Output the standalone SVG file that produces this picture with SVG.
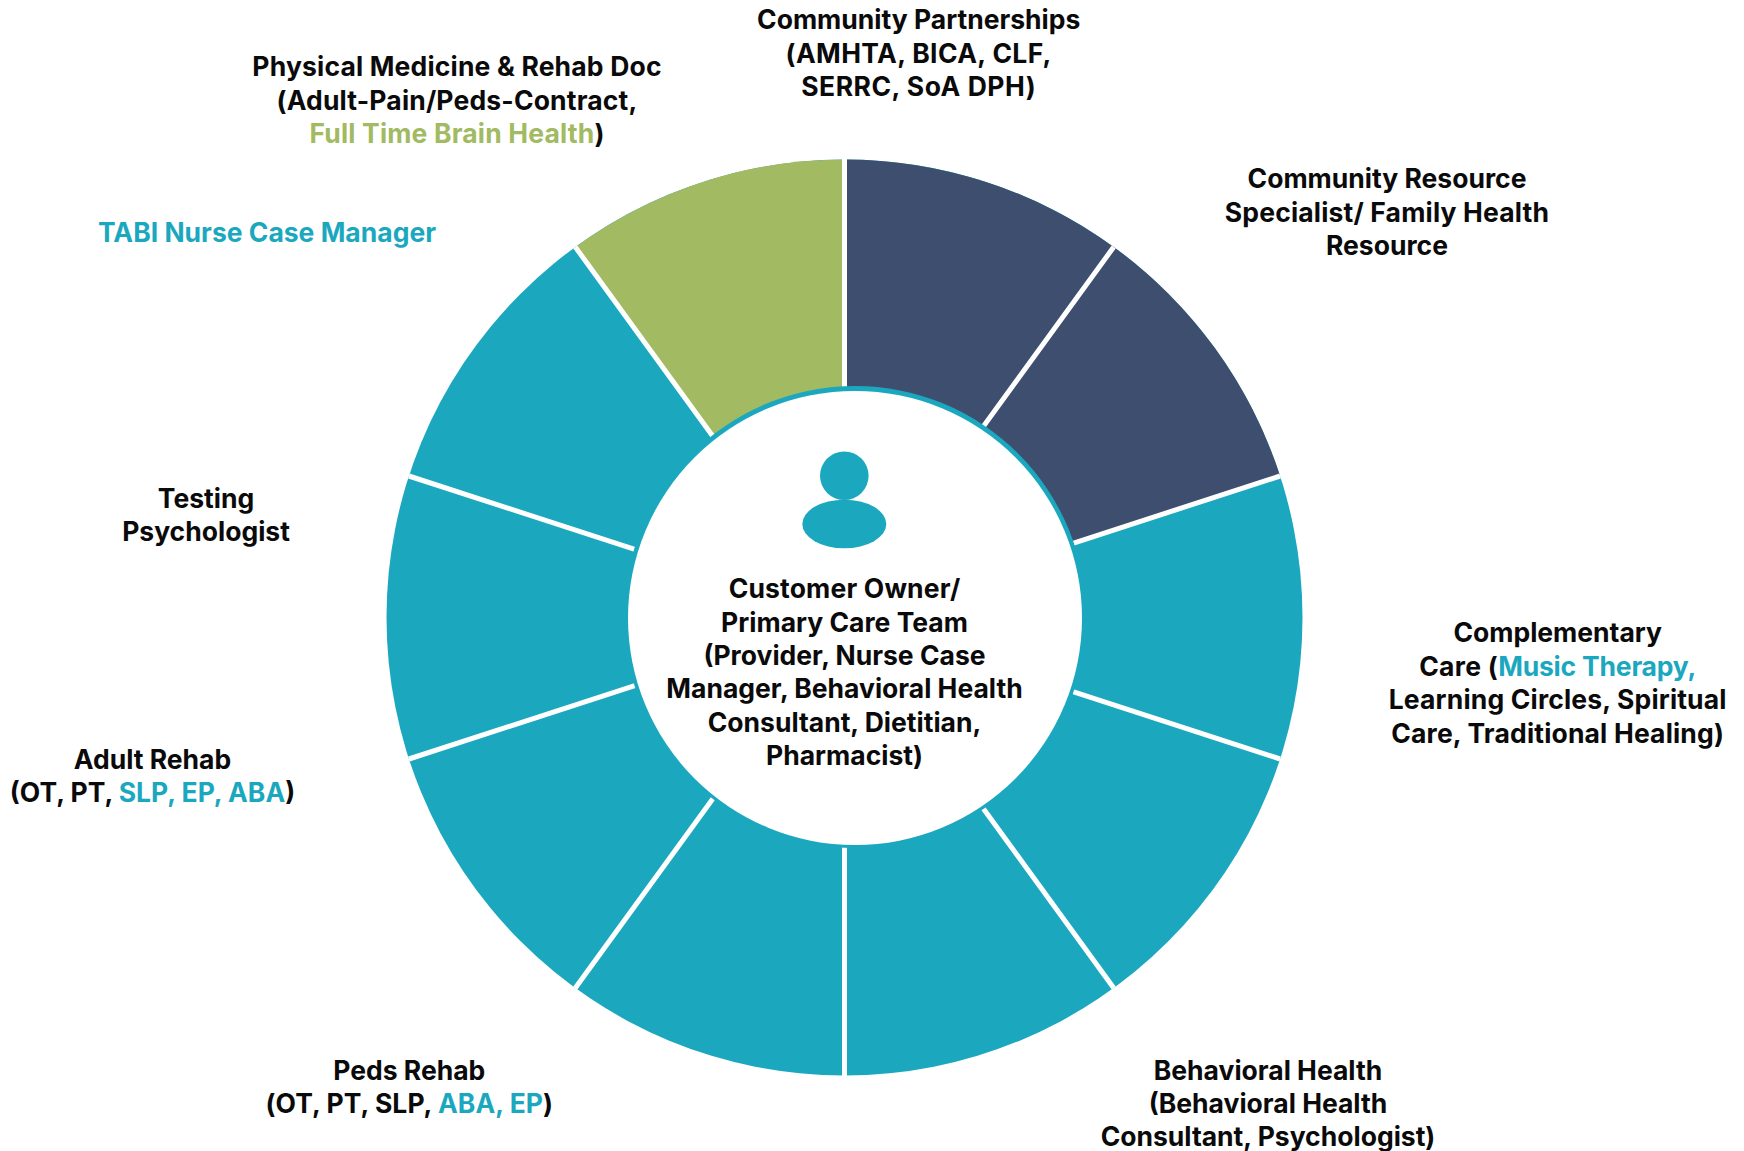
<svg xmlns="http://www.w3.org/2000/svg" width="1744" height="1151" viewBox="0 0 1744 1151">
<style>
text{font-family:"Inter","Liberation Sans",sans-serif;font-weight:700;font-size:26.5px;fill:#0a0a0a;text-anchor:middle}
.t{fill:#1ba8bf}.g{fill:#a2ba62}
.s1{letter-spacing:.17px}.s2{letter-spacing:.37px}.s3{letter-spacing:.5px}
.sp{stroke:#fff;stroke-width:5;fill:none}
</style>
<rect width="1744" height="1151" fill="#fff"/>
<g id="ring">
<circle cx="844.5" cy="617.5" r="458" fill="#1ba8bf"/>
<path d="M844.5 617.5V159.5A458 458 0 0 1 1280.1 476Z" fill="#3e4e6e"/>
<path d="M844.5 617.5V159.5A458 458 0 0 0 575.3 247Z" fill="#a2ba62"/>
</g>
<g id="connectors">
<path class="sp" d="M844.5 617.5V159M844.5 617.5V1076M844.5 617.5L1113.7 247M844.5 617.5L575.3 988M844.5 617.5L1280.1 476M844.5 617.5L408.9 759M844.5 617.5L1280.1 759M844.5 617.5L408.9 476M844.5 617.5L1113.7 988M844.5 617.5L575.3 247"/>
</g>
<g id="center">
<circle cx="855" cy="617" r="231" fill="#1ba8bf"/>
<circle cx="855" cy="618" r="227" fill="#fff"/>
<circle cx="844.3" cy="475.7" r="24.3" fill="#1ba8bf"/>
<ellipse cx="844.3" cy="524" rx="42" ry="24.3" fill="#1ba8bf"/>
<text class="s1" x="844.5" y="598.4">Customer Owner/</text>
<text x="844.5" y="632">Primary Care Team</text>
<text x="844.5" y="665">(Provider, Nurse Case</text>
<text x="844.5" y="698.4">Manager, Behavioral Health</text>
<text x="844.5" y="731.8">Consultant, Dietitian,</text>
<text x="844.5" y="765.2">Pharmacist)</text>
</g>
<g id="community-partnerships">
<text x="918.7" y="29">Community Partnerships</text>
<text class="s2" x="918.7" y="63">(AMHTA, BICA, CLF,</text>
<text class="s3" x="918.7" y="96">SERRC, SoA DPH)</text>
</g>
<g id="community-resource">
<text x="1387" y="188.2">Community Resource</text>
<text class="s1" x="1387" y="221.6">Specialist/ Family Health</text>
<text x="1387" y="255">Resource</text>
</g>
<g id="complementary-care">
<text x="1557.7" y="642.2">Complementary</text>
<text x="1557.7" y="676" style="letter-spacing:.3px">Care (<tspan class="t" style="letter-spacing:-.2px">Music Therapy,</tspan></text>
<text class="s1" x="1557.7" y="709">Learning Circles, Spiritual</text>
<text class="s1" x="1557.7" y="742.6">Care, Traditional Healing)</text>
</g>
<g id="behavioral-health">
<text x="1268" y="1079.5">Behavioral Health</text>
<text x="1268" y="1113">(Behavioral Health</text>
<text x="1268" y="1146.4">Consultant, Psychologist)</text>
</g>
<g id="peds-rehab">
<text x="409.3" y="1079.5">Peds Rehab</text>
<text x="409.3" y="1113" style="letter-spacing:.05px">(OT, PT, SLP, <tspan class="t">ABA, EP</tspan>)</text>
</g>
<g id="adult-rehab">
<text x="152.5" y="768.5">Adult Rehab</text>
<text x="152.5" y="802.4">(OT, PT, <tspan class="t">SLP, EP, ABA</tspan>)</text>
</g>
<g id="testing-psychologist">
<text x="206" y="507.8">Testing</text>
<text x="206" y="541">Psychologist</text>
</g>
<g id="tabi-nurse">
<text class="t" x="267" y="242">TABI Nurse Case Manager</text>
</g>
<g id="physical-medicine">
<text class="s1" x="457" y="76">Physical Medicine &amp; Rehab Doc</text>
<text class="s1" x="457" y="110">(Adult-Pain/Peds-Contract,</text>
<text class="s1" x="457" y="143"><tspan class="g">Full Time Brain Health</tspan>)</text>
</g>
</svg>
